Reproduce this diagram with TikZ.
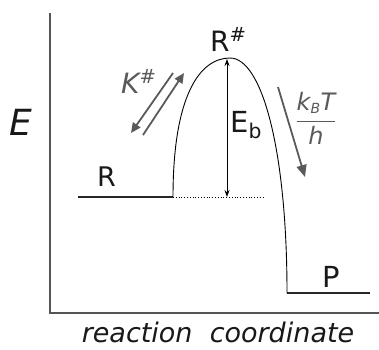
\documentclass[tikz,border=0pt]{standalone}
\usepackage{fontspec}
\setmainfont{DejaVu Sans}
\usetikzlibrary{arrows.meta}

\definecolor{axisgray}{HTML}{555555}
\definecolor{lightgray}{HTML}{5A5A5A}

\begin{document}
\begin{tikzpicture}[
    x=1pt, y=-1pt,
    axis/.style={draw=axisgray, line width=1.2pt},
    level/.style={draw=black!85, line width=1.8pt},
    barrier/.style={draw=black, line width=0.9pt},
    arrow/.style={{Stealth[length=7pt,width=5pt]}-{Stealth[length=7pt,width=5pt]}, draw=black, line width=0.9pt},
    garrow/.style={-{Triangle[length=11pt,width=9pt]}, draw=lightgray, line width=1.8pt},
    lbl/.style={inner sep=0pt, text=black!90, anchor=base west},
    glbl/.style={inner sep=0pt, text=lightgray, anchor=base west, font=\fontsize{28}{30}\selectfont\itshape}
]
\useasboundingbox (0,0) rectangle (379,349);

% 1. Axes
\coordinate (origin) at (50,313);
\coordinate (ytop) at (50,13);
\coordinate (xend) at (379,313);
\draw[axis] (ytop) -- (origin) -- (xend);
\node[lbl, font=\fontsize{36}{38}\selectfont\itshape] (elabel) at (9,135) {E};
\node[lbl, anchor=base, font=\fontsize{27}{29}\selectfont\itshape] (xlabel) at (218,342) {reaction\ \ coordinate};

% 2. Energy levels and barrier
\coordinate (rstart) at (78,197);
\coordinate (rend) at (173,197);
\coordinate (peak) at (230,58);
\coordinate (pstart) at (287,293);
\coordinate (pend) at (370,293);
\coordinate (dotend) at (263,197);
\draw[level] (rstart) -- (rend);
\draw[level] (pstart) -- (pend);
\draw[barrier] (rend) .. controls (173,95) and (200,58) .. (peak)
    .. controls (262,58) and (287,150) .. (pstart);
\draw[black, dotted, line width=0.8pt] (rend) -- (dotend);

% 3. Labels of the states
\node[lbl, font=\fontsize{27}{29}\selectfont] (rlabel) at (97,186) {R};
\node[lbl, font=\fontsize{29}{31}\selectfont] (plabel) at (322,287) {P};
\node[lbl, font=\fontsize{28}{30}\selectfont] (tslabel) at (210,51) {R\textsuperscript{\#}};

% 4. Barrier height
\coordinate (ebtop) at (227,59);
\coordinate (ebbot) at (227,197);
\draw[arrow] (ebtop) -- (ebbot);
\node[lbl, font=\fontsize{29}{31}\selectfont] (eblabel) at (230,132) {E\textsubscript{b}};

% 5. Rates
\coordinate (kfwd1) at (131,133);
\coordinate (kfwd2) at (173,73);
\coordinate (kbwd1) at (143,135);
\coordinate (kbwd2) at (184,73);
\draw[garrow, -{Triangle[length=10pt,width=9pt]}] (kfwd2) -- (kfwd1);
\draw[garrow, -{Triangle[length=10pt,width=9pt]}] (kbwd1) -- (kbwd2);
\node[glbl] (klabel) at (121,93) {K\textsuperscript{\upshape\#}};

\coordinate (rate1) at (278,87);
\coordinate (rate2) at (305,177);
\draw[garrow, -{Triangle[length=12pt,width=10pt]}] (rate1) -- (rate2);
\node[inner sep=0pt, text=lightgray] (ratelabel) at (316,118)
    {\fontsize{24}{26}\selectfont$\displaystyle\frac{\textit{k}_{\textit{\fontsize{14}{14}\selectfont B}}\textit{T}}{\textit{h}}$};

\end{tikzpicture}
\end{document}
